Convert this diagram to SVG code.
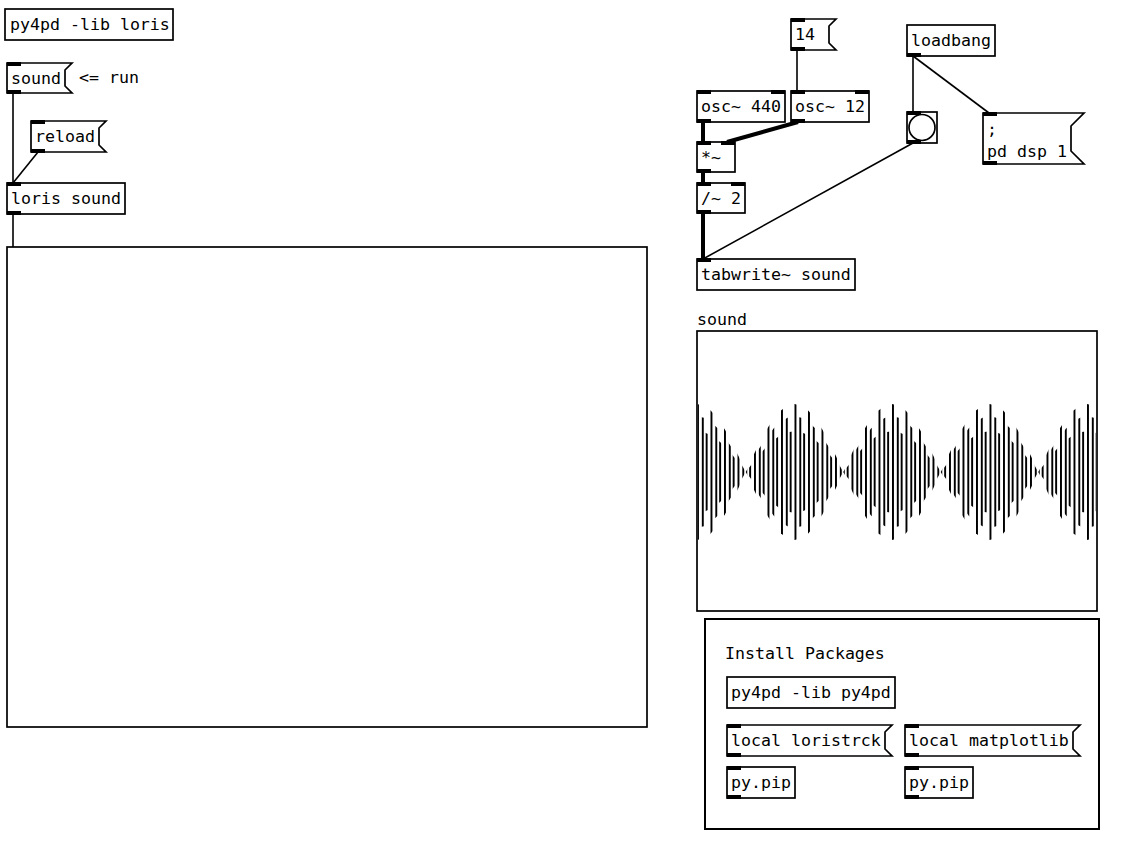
<svg xmlns="http://www.w3.org/2000/svg" xmlns:xlink="http://www.w3.org/1999/xlink" width="1121" height="852" viewBox="0 0 1121 852">
<style>
.box{fill:#fff;stroke:#000;stroke-width:1.7}
.io{fill:#000}
.t{font-family:"DejaVu Sans Mono","Liberation Mono",monospace;font-size:16.6px;fill:#000}
.c{stroke:#000;stroke-width:1.6;fill:none}
.s{stroke:#000;stroke-width:4;fill:none}
</style>
<defs>
<path id="lobe" d="M-48.75,0 L-41.79,-15.2 L-34.82,-29.5 L-27.86,-42.4 L-20.89,-53.2 L-13.93,-61.3 L-6.96,-66.3 L0,-68 L6.96,-66.3 L13.93,-61.3 L20.89,-53.2 L27.86,-42.4 L34.82,-29.5 L41.79,-15.2 L48.75,0 L41.79,15.2 L34.82,29.5 L27.86,42.4 L20.89,53.2 L13.93,61.3 L6.96,66.3 L0,68 L-6.96,66.3 L-13.93,61.3 L-20.89,53.2 L-27.86,42.4 L-34.82,29.5 L-41.79,15.2 Z"/>
<pattern id="w1" patternUnits="userSpaceOnUse" x="0" y="0" width="13.5" height="200"><rect x="0" y="0" width="2" height="200" fill="#000" shape-rendering="crispEdges"/></pattern>
<pattern id="w2" patternUnits="userSpaceOnUse" x="0" y="0" width="13.5" height="200"><rect x="4.5" y="0" width="2" height="200" fill="#000" shape-rendering="crispEdges"/></pattern>
<pattern id="w3" patternUnits="userSpaceOnUse" x="0" y="0" width="13.5" height="200"><rect x="9" y="0" width="2" height="200" fill="#000" shape-rendering="crispEdges"/></pattern>
<clipPath id="gclip"><rect x="698" y="332" width="398" height="278"/></clipPath>
</defs>
<rect width="1121" height="852" fill="#fff"/>

<g id="connections">
<line class="c" x1="13" y1="93" x2="13" y2="183"/>
<line class="c" x1="38" y1="152" x2="13" y2="183"/>
<line class="c" x1="13" y1="214" x2="13" y2="247"/>
<line class="c" x1="797" y1="50" x2="797" y2="91"/>
<line class="s" x1="703" y1="122" x2="703" y2="142"/>
<line class="s" x1="798" y1="122" x2="727" y2="142"/>
<line class="s" x1="703" y1="172" x2="703" y2="183"/>
<line class="s" x1="703" y1="213" x2="703" y2="259"/>
<line class="c" x1="913" y1="56" x2="913" y2="112"/>
<line class="c" x1="913" y1="56" x2="989" y2="113"/>
<line class="c" x1="913" y1="143" x2="703" y2="259"/>
<line class="c" x1="733" y1="756" x2="733" y2="767"/>
<line class="c" x1="911" y1="756" x2="911" y2="767"/>
</g>

<g id="obj-py4pd-loris">
<rect class="box" x="5" y="9" width="168" height="31"/>
<text class="t" x="10" y="30">py4pd -lib loris</text>
</g>

<g id="msg-sound">
<path class="box" d="M7,63 H72 L65,70 V86 L72,93 H7 Z"/>
<rect class="io" x="7" y="62" width="14" height="4"/>
<rect class="io" x="7" y="90" width="14" height="4"/>
<text class="t" x="11" y="84">sound</text>
</g>

<g id="comment-run"><text class="t" x="79" y="83">&lt;= run</text></g>

<g id="msg-reload">
<path class="box" d="M31,121 H106 L99,128 V145 L106,152 H31 Z"/>
<rect class="io" x="31" y="120" width="14" height="4"/>
<rect class="io" x="31" y="149" width="14" height="4"/>
<text class="t" x="35" y="142">reload</text>
</g>

<g id="obj-loris-sound">
<rect class="box" x="7" y="183" width="118" height="31"/>
<rect class="io" x="7" y="182" width="14" height="4"/>
<rect class="io" x="7" y="211" width="14" height="4"/>
<text class="t" x="11" y="204">loris sound</text>
</g>

<g id="graph-loris">
<rect x="7" y="247" width="640" height="480" fill="#fff" stroke="#000" stroke-width="1.7"/>
</g>

<g id="msg-14">
<path class="box" d="M791,19 H836 L829,26 V43 L836,50 H791 Z"/>
<rect class="io" x="791" y="18" width="14" height="4"/>
<rect class="io" x="791" y="47" width="14" height="4"/>
<text class="t" x="795" y="40">14</text>
</g>

<g id="obj-osc440">
<rect class="box" x="697" y="91" width="88" height="31"/>
<rect class="io" x="697" y="90" width="14" height="4"/>
<rect class="io" x="771" y="90" width="14" height="4"/>
<rect class="io" x="697" y="119" width="14" height="4"/>
<text class="t" x="701" y="112">osc~ 440</text>
</g>

<g id="obj-osc12">
<rect class="box" x="791" y="91" width="78" height="31"/>
<rect class="io" x="791" y="90" width="14" height="4"/>
<rect class="io" x="855" y="90" width="14" height="4"/>
<rect class="io" x="791" y="119" width="14" height="4"/>
<text class="t" x="795" y="112">osc~ 12</text>
</g>

<g id="obj-mul">
<rect class="box" x="697" y="142" width="38" height="30"/>
<rect class="io" x="697" y="141" width="14" height="4"/>
<rect class="io" x="721" y="141" width="14" height="4"/>
<rect class="io" x="697" y="169" width="14" height="4"/>
<text class="t" x="701" y="163">*~</text>
</g>

<g id="obj-div">
<rect class="box" x="697" y="183" width="48" height="30"/>
<rect class="io" x="697" y="182" width="14" height="4"/>
<rect class="io" x="731" y="182" width="14" height="4"/>
<rect class="io" x="697" y="210" width="14" height="4"/>
<text class="t" x="701" y="204">/~ 2</text>
</g>

<g id="obj-tabwrite">
<rect class="box" x="697" y="259" width="158" height="31"/>
<rect class="io" x="697" y="258" width="14" height="4"/>
<text class="t" x="701" y="280">tabwrite~ sound</text>
</g>

<g id="obj-loadbang">
<rect class="box" x="907" y="25" width="88" height="31"/>
<rect class="io" x="907" y="53" width="14" height="4"/>
<text class="t" x="911" y="46">loadbang</text>
</g>

<g id="bng">
<rect class="box" x="907" y="112" width="30" height="31"/>
<circle cx="922" cy="127.5" r="13" fill="#fff" stroke="#000" stroke-width="1.7"/>
<rect class="io" x="907" y="111" width="14" height="4"/>
<rect class="io" x="907" y="140" width="14" height="4"/>
</g>

<g id="msg-dsp">
<path class="box" d="M983,113 H1084 L1071,126 V151 L1084,164 H983 Z"/>
<rect class="io" x="983" y="112" width="14" height="4"/>
<rect class="io" x="983" y="161" width="14" height="4"/>
<text class="t" x="987" y="135">;</text>
<text class="t" x="987" y="157">pd dsp 1</text>
</g>

<g id="array-sound">
<text class="t" x="697" y="325">sound</text>
<rect x="697" y="331" width="400" height="280" fill="#fff" stroke="#000" stroke-width="1.7"/>
<g clip-path="url(#gclip)">
<use xlink:href="#lobe" transform="translate(697,472)" fill="url(#w1)"/>
<use xlink:href="#lobe" transform="translate(697,472) scale(1,0.82)" fill="url(#w2)"/>
<use xlink:href="#lobe" transform="translate(697,472) scale(1,0.6)" fill="url(#w3)"/>
<use xlink:href="#lobe" transform="translate(794.5,472)" fill="url(#w1)"/>
<use xlink:href="#lobe" transform="translate(794.5,472) scale(1,0.82)" fill="url(#w2)"/>
<use xlink:href="#lobe" transform="translate(794.5,472) scale(1,0.6)" fill="url(#w3)"/>
<use xlink:href="#lobe" transform="translate(892,472)" fill="url(#w1)"/>
<use xlink:href="#lobe" transform="translate(892,472) scale(1,0.82)" fill="url(#w2)"/>
<use xlink:href="#lobe" transform="translate(892,472) scale(1,0.6)" fill="url(#w3)"/>
<use xlink:href="#lobe" transform="translate(989.5,472)" fill="url(#w1)"/>
<use xlink:href="#lobe" transform="translate(989.5,472) scale(1,0.82)" fill="url(#w2)"/>
<use xlink:href="#lobe" transform="translate(989.5,472) scale(1,0.6)" fill="url(#w3)"/>
<use xlink:href="#lobe" transform="translate(1087,472)" fill="url(#w1)"/>
<use xlink:href="#lobe" transform="translate(1087,472) scale(1,0.82)" fill="url(#w2)"/>
<use xlink:href="#lobe" transform="translate(1087,472) scale(1,0.6)" fill="url(#w3)"/>
</g>
</g>

<g id="cnv-install">
<rect x="705" y="619" width="394" height="210" fill="#fff" stroke="#000" stroke-width="2"/>
<text class="t" x="725" y="659">Install Packages</text>
</g>

<g id="obj-py4pd-py4pd">
<rect class="box" x="727" y="677" width="168" height="31"/>
<text class="t" x="731" y="698">py4pd -lib py4pd</text>
</g>

<g id="msg-loristrck">
<path class="box" d="M727,725 H892 L885,732 V749 L892,756 H727 Z"/>
<rect class="io" x="727" y="724" width="14" height="4"/>
<rect class="io" x="727" y="753" width="14" height="4"/>
<text class="t" x="731" y="746">local loristrck</text>
</g>

<g id="msg-matplotlib">
<path class="box" d="M905,725 H1080 L1073,732 V749 L1080,756 H905 Z"/>
<rect class="io" x="905" y="724" width="14" height="4"/>
<rect class="io" x="905" y="753" width="14" height="4"/>
<text class="t" x="909" y="746">local matplotlib</text>
</g>

<g id="obj-pip1">
<rect class="box" x="727" y="767" width="68" height="31"/>
<rect class="io" x="727" y="766" width="14" height="4"/>
<rect class="io" x="727" y="795" width="14" height="4"/>
<text class="t" x="731" y="788">py.pip</text>
</g>

<g id="obj-pip2">
<rect class="box" x="905" y="767" width="68" height="31"/>
<rect class="io" x="905" y="766" width="14" height="4"/>
<rect class="io" x="905" y="795" width="14" height="4"/>
<text class="t" x="909" y="788">py.pip</text>
</g>
</svg>
